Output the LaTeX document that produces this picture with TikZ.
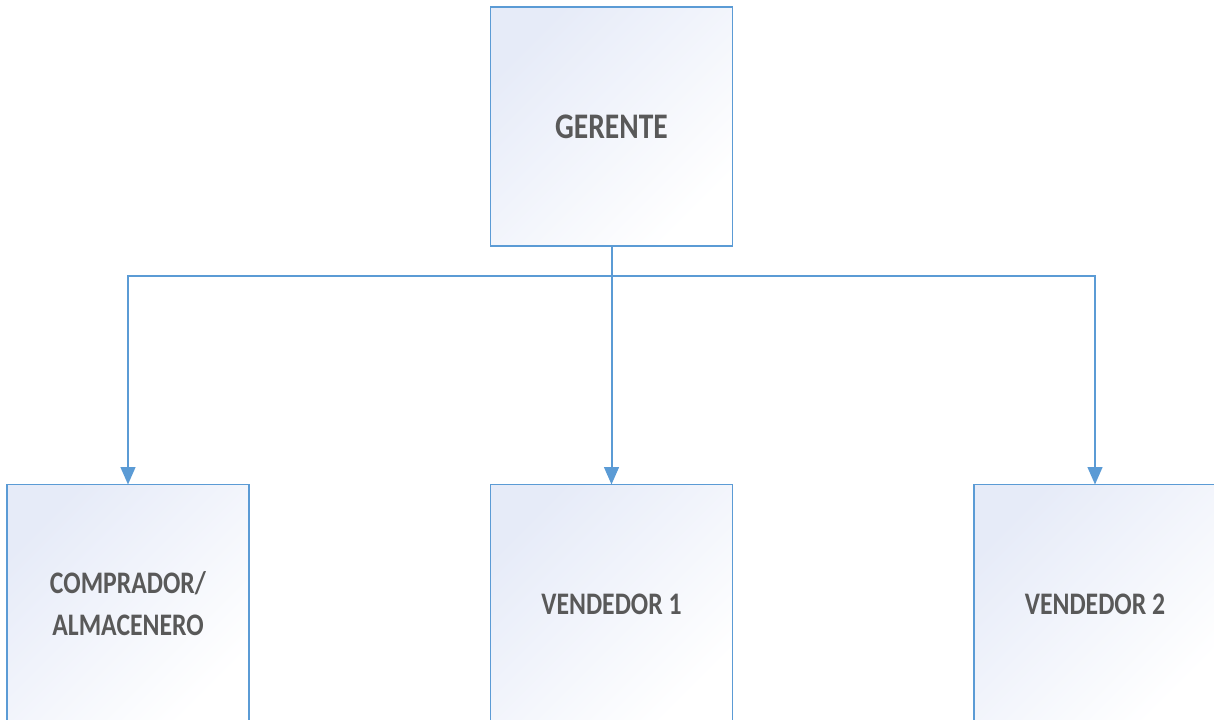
\documentclass[tikz,border=0pt]{standalone}
\usepackage{fontspec}
\setmainfont{Carlito}
\usetikzlibrary{arrows.meta}
\definecolor{linec}{RGB}{91,155,213}
\definecolor{boxtop}{RGB}{230,235,248}
\definecolor{boxmid}{RGB}{249,250,253}
\definecolor{txt}{RGB}{89,89,89}
\newcommand\hsq[1]{\scalebox{0.82}[1]{#1}}
\begin{document}
\begin{tikzpicture}[x=0.75pt,y=-0.75pt,
  box/.style={draw=linec, line width=1.4pt, top color=boxtop, middle color=boxmid, bottom color=white, shading angle=45,
    minimum width=181.5pt, minimum height=179.25pt, inner sep=0pt, outer sep=0pt,
    font=\fontsize{23.5}{31.5}\selectfont\bfseries, text=txt, align=center},
  topbox/.style={box, font=\fontsize{27}{31.5}\selectfont\bfseries},
  conn/.style={draw=linec, line width=1.5pt, -{Triangle[length=13pt,width=11pt]}}]
\path[use as bounding box] (0,0) rectangle (1214,719);
\clip (0,0) rectangle (1214,719);
\node[topbox] (ger) at (611.5,126.5) {\hsq{GERENTE}};
\node[box] (comp) at (128,604) {\hsq{COMPRADOR/}\\\hsq{ALMACENERO}};
\node[box] (v1) at (611.5,604) {\hsq{VENDEDOR 1}};
\node[box] (v2) at (1095,604) {\hsq{VENDEDOR 2}};
\draw[conn] (ger.south) -- ++(0,30) -| (comp.north);
\draw[conn] (ger.south) -- ++(0,30) -| (v2.north);
\draw[conn] (ger.south) -- (v1.north);
\end{tikzpicture}
\end{document}
